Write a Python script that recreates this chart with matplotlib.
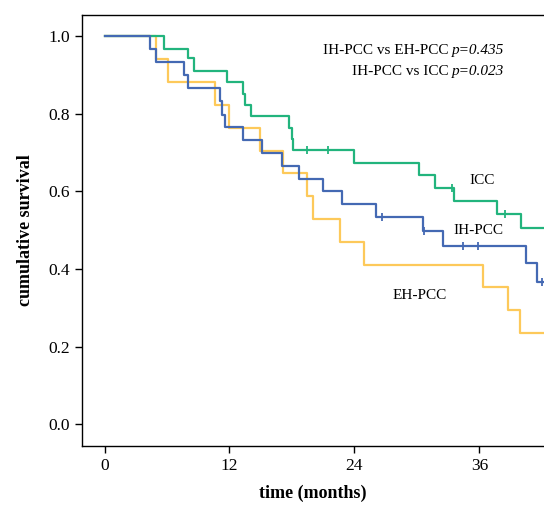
import numpy as np
import matplotlib
matplotlib.use("Agg")
import matplotlib.pyplot as plt

plt.rcParams['font.family'] = ['Liberation Serif', 'DejaVu Serif']

# IH-PCC (blue)
ih_t = [0, 4.4, 4.96, 7.65, 7.97, 11.08, 11.3, 11.56, 13.26, 15.1, 17.06, 18.7,
        21.0, 22.8, 26.06, 30.55, 32.5, 40.47, 41.55, 42.6]
ih_s = [1.0, 0.966, 0.932, 0.900, 0.866, 0.833, 0.797, 0.766, 0.733, 0.700, 0.666,
        0.633, 0.601, 0.567, 0.534, 0.498, 0.459, 0.415, 0.367, 0.367]
ih_cens_t = [26.67, 30.7, 34.4, 35.9, 41.97]
ih_cens_s = [0.534, 0.498, 0.459, 0.459, 0.367]

# EH-PCC (yellow)
eh_t = [0, 4.96, 6.05, 10.6, 11.94, 14.95, 17.1, 19.4, 20.05, 22.6, 24.94, 36.37,
        38.7, 39.9, 42.6]
eh_s = [1.0, 0.941, 0.882, 0.822, 0.764, 0.705, 0.647, 0.588, 0.529, 0.470, 0.410,
        0.354, 0.294, 0.235, 0.235]

# ICC (green)
icc_t = [0, 5.67, 7.97, 8.55, 11.75, 13.26, 13.48, 14.02, 17.7, 17.96, 18.12, 23.98,
         30.2, 31.77, 33.57, 37.7, 40.0, 42.6]
icc_s = [1.0, 0.968, 0.943, 0.911, 0.882, 0.852, 0.822, 0.793, 0.764, 0.736, 0.706,
         0.674, 0.642, 0.609, 0.576, 0.542, 0.506, 0.506]
icc_cens_t = [19.4, 21.45, 33.4, 38.5]
icc_cens_s = [0.706, 0.706, 0.609, 0.542]

comparisons = ['IH-PCC vs EH-PCC', 'IH-PCC vs ICC']
p_values = ['p=0.435', 'p=0.023']

blue = '#4469b3'
yellow = '#fdc95a'
green = '#22b47d'

fig = plt.figure(figsize=(5.44, 5.05), dpi=100)
ax = fig.add_axes([0.150, 0.1168, 0.850, 0.854])

ax.step(eh_t, eh_s, where='post', color=yellow, lw=1.6)
ax.step(icc_t, icc_s, where='post', color=green, lw=1.6)
ax.step(ih_t, ih_s, where='post', color=blue, lw=1.6)
ax.plot(icc_cens_t, icc_cens_s, ls='none', marker='|', ms=6, mew=1.3, color=green)
ax.plot(ih_cens_t, ih_cens_s, ls='none', marker='|', ms=6, mew=1.3, color=blue)

ax.set_xlim(-2.2, 42.2)
ax.set_ylim(-0.056, 1.055)
ax.set_xticks([0, 12, 24, 36])
ax.set_yticks(np.arange(0, 1.01, 0.2))
ax.set_yticklabels([f'{v:.1f}' for v in np.arange(0, 1.01, 0.2)])
ax.tick_params(labelsize=12.5, length=5, width=1)
ax.spines['right'].set_visible(False)
for s in ['left', 'bottom', 'top']:
    ax.spines[s].set_linewidth(1)

ax.set_xlabel('time (months)', fontsize=13, fontweight='bold', labelpad=8)
ax.set_ylabel('cumulative survival', fontsize=13, fontweight='bold', labelpad=10)

ax.text(36.3, 0.627, 'ICC', fontsize=11, ha='center', va='center')
ax.text(35.9, 0.50, 'IH-PCC', fontsize=11, ha='center', va='center')
ax.text(30.3, 0.333, 'EH-PCC', fontsize=11, ha='center', va='center')
for comp, p, y in zip(comparisons, p_values, [0.964, 0.910]):
    pt = ax.text(38.4, y, p, fontsize=11, style='italic', ha='right', va='center')
    ax.annotate(comp, xy=(0, 0), xycoords=pt, xytext=(-2.5, 0),
                textcoords='offset points', fontsize=11, ha='right', va='bottom')

fig.savefig('out.png', dpi=100)
